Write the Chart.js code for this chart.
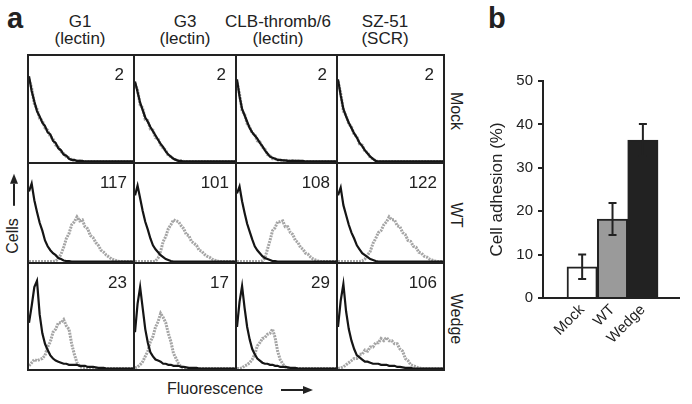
<!DOCTYPE html>
<html>
<head>
<meta charset="utf-8">
<script src="https://cdn.jsdelivr.net/npm/chart.js@4.4.0/dist/chart.umd.min.js"></script>
<style>
  body { margin: 0; background: #fff; }
  #fig { position: relative; width: 692px; height: 404px; overflow: hidden; background: #fff;
         font-family: 'Liberation Sans', Arial, sans-serif; color: #222; }
  .txt { position: absolute; white-space: nowrap; }
  .cell { position: absolute; box-sizing: border-box; border-left: 2px solid #222; border-top: 2px solid #222; }
  .cell canvas { position: absolute; left: 0; top: 0; }
  .count { position: absolute; font-size: 17px; line-height: 17px; }
  .head { position: absolute; width: 130px; text-align: center; font-size: 17px; line-height: 17px; top: 12.5px; }
  .rot { position: absolute; white-space: nowrap; font-size: 16px; line-height: 16px; }
  .arrow { display: inline-flex; align-items: center; vertical-align: middle; }
  .shaft { width: 22px; height: 1.5px; background: #222; }
  .tip { width: 0; height: 0; border-top: 4px solid transparent; border-bottom: 4px solid transparent; border-left: 10px solid #222; }
  .letter { position: absolute; font-size: 29px; line-height: 29px; font-weight: bold; top: 3.5px; }
</style>
</head>
<body>
<div id="fig">
  <div class="letter" style="left:7px">a</div>
  <div class="letter" style="left:488px">b</div>
  <div class="rot" style="left:13px; top:214px; transform: translate(-50%,-50%) rotate(-90deg);">Cells<span style="display:inline-block;width:12px"></span><span class="arrow"><span class="shaft"></span><span class="tip"></span></span></div>
  <div class="txt" style="left:167px; top:381px; font-size:16px; line-height:16px;">Fluorescence<span style="display:inline-block;width:18px"></span><span class="arrow"><span class="shaft"></span><span class="tip"></span></span></div>
  <canvas id="barChart" width="209" height="308" style="position:absolute; left:483px; top:60px;"></canvas>
</div>
<script>
// panel a: flow cytometry histograms (values in % of cell height, 40 bins)
const columnNames = [['G1', '(lectin)'], ['G3', '(lectin)'], ['CLB-thromb/6', '(lectin)'], ['SZ-51', '(SCR)']];
const rowNames = ['Mock', 'WT', 'Wedge'];
const cellCounts = [[2, 2, 2, 2], [117, 101, 108, 122], [23, 17, 29, 106]];

const mockBlack = [
  [81,67,57,48,43,37,34,28,26,20, 18,13,11,7,6,3,2,2,1,1, 1,.5,.5,.5,.5,.5,.5,.5,.5,.5, .5,.5,.5,.5,.5,.5,.5,.5,.5,.5],
  [76,66,56,49,42,38,33,29,25,21, 17,14,10,7,5,3,2,1,1,.5, .5,.5,.5,.5,.5,.5,.5,.5,.5,.5, .5,.5,.5,.5,.5,.5,.5,.5,.5,.5],
  [78,62,50,44,38,32,28,25,22,18, 15,11,8,5,4,3,2,2,1.5,1.5, 1,1,1,1,1,1,1,.5,.5,.5, .5,.5,.5,.5,.5,.5,.5,.5,.5,.5],
  [78,63,50,43,37,32,27,23,18,15, 11,8,5,3,1,.5,.5,.5,.5,.5, .5,.5,.5,.5,.5,.5,.5,.5,.5,.5, .5,.5,.5,.5,.5,.5,.5,.5,.5,.5]
];
const mockGray = [
  [78,70,55,50,41,39,32,30,24,22, 16,14,10,8,5,4,2,1,1,1, .5,.5,.5,.5,.5,.5,.5,.5,.5,.5, .5,.5,.5,.5,.5,.5,.5,.5,.5,.5],
  [74,68,54,51,40,39,31,30,23,22, 16,13,11,6,5,3,2,1,1,.5, .5,.5,.5,.5,.5,.5,.5,.5,.5,.5, .5,.5,.5,.5,.5,.5,.5,.5,.5,.5],
  [75,64,48,45,36,33,27,26,20,19, 14,12,7,6,3,3,2,2,1,2, 1,1,1.5,1,1,.5,.5,.5,.5,.5, .5,.5,.5,.5,.5,.5,.5,.5,.5,.5],
  [76,65,48,44,36,33,26,24,17,16, 10,9,4,3,1,.5,.5,.5,.5,.5, .5,.5,.5,.5,.5,.5,.5,.5,.5,.5, .5,.5,.5,.5,.5,.5,.5,.5,.5,.5]
];
const wtBlack = [
  [72,80,63,51,40,32,22,16,12,9, 7,4,3,1.5,1,1,.5,.5,.5,.5, .5,.5,.5,.5,.5,.5,.5,.5,.5,.5, .5,.5,.5,.5,.5,.5,.5,.5,.5,.5],
  [68,78,65,52,41,33,24,17,13,10, 7,5,3,2,1,.5,.5,.5,.5,.5, .5,.5,.5,.5,.5,.5,.5,.5,.5,.5, .5,.5,.5,.5,.5,.5,.5,.5,.5,.5],
  [70,77,62,50,39,31,23,16,12,9, 6,4,3,2,1,1,.5,.5,.5,.5, .5,.5,.5,.5,.5,.5,.5,.5,.5,.5, .5,.5,.5,.5,.5,.5,.5,.5,.5,.5],
  [68,76,58,48,38,30,24,17,13,9, 7,5,3,2,1,.5,.5,.5,.5,.5, .5,.5,.5,.5,.5,.5,.5,.5,.5,.5, .5,.5,.5,.5,.5,.5,.5,.5,.5,.5]
];
const wtGray = [
  [.5,.5,.5,.5,.5,.5,.5,.5,.5,.5, 1,3,8,15,24,29,38,41,46,42, 43,36,34,27,25,20,17,12,10,7, 5,3,2,1,.5,.5,.5,.5,.5,.5],
  [.5,.5,.5,.5,.5,.5,.5,.5,1,4, 11,21,26,34,38,43,42,41,37,34, 28,27,21,19,17,12,11,8,6,5, 3,2,1,.5,.5,.5,.5,.5,.5,.5],
  [.5,.5,.5,.5,.5,.5,.5,.5,.5,.5, 1,4,13,22,32,35,41,41,42,36, 36,30,28,22,20,15,13,9,8,5, 3,2,1,.5,.5,.5,.5,.5,.5,.5],
  [.5,.5,.5,.5,.5,.5,.5,.5,.5,1, 3,7,11,19,24,30,32,38,41,46, 43,43,37,36,30,28,22,21,16,15, 10,9,6,5,3,2,1,.5,.5,.5]
];
const wedgeBlack = [
  [44,60,78,84,52,34,24,18,13,10, 8,7,6,5,5,4,4,4,4,3, 3,3,2,2,2,1.5,1,1,1,.5, .5,.5,.5,.5,.5,.5,.5,.5,.5,.5],
  [35,62,78,58,38,25,16,12,9,8, 7,5,5,4,4,3,3,3,2,2, 1.5,1,1,1,1,.5,.5,.5,.5,.5, .5,.5,.5,.5,.5,.5,.5,.5,.5,.5],
  [40,64,79,58,40,28,19,14,10,8, 6,5,5,4,4,3,3,2,2,2, 1.5,1,1,1,.5,.5,.5,.5,.5,.5, .5,.5,.5,.5,.5,.5,.5,.5,.5,.5],
  [40,65,81,55,38,27,19,13,11,9, 7,7,6,5,5,5,4,4,4,3, 3,3,2,2,1.5,1,1,1,.5,.5, .5,.5,.5,.5,.5,.5,.5,.5,.5,.5]
];
const wedgeGray = [
  [3,6,9,8,9,10,13,21,26,35, 38,44,44,47,41,38,24,14,6,3, 1,1,.5,.5,.5,.5,.5,.5,.5,.5, .5,.5,.5,.5,.5,.5,.5,.5,.5,.5],
  [1,2,4,7,12,17,26,31,40,45, 53,49,44,34,26,15,10,5,2,1, .5,.5,.5,.5,.5,.5,.5,.5,.5,.5, .5,.5,.5,.5,.5,.5,.5,.5,.5,.5],
  [.5,.5,1,3,4,6,9,14,22,25, 29,30,33,34,38,30,17,9,5,2, 1,.5,.5,.5,.5,.5,.5,.5,.5,.5, .5,.5,.5,.5,.5,.5,.5,.5,.5,.5],
  [.5,1,2,4,6,8,10,10,14,14, 18,17,21,21,25,25,29,27,30,27, 27,24,24,19,17,10,8,4,3,2, 1,.5,.5,.5,.5,.5,.5,.5,.5,.5]
];

// panel b: cell adhesion
const barLabels = ['Mock', 'WT', 'Wedge'];
const adhesion = [7.2, 18.2, 36.4];
const adhesionErr = [2.8, 3.7, 3.7];
const barColors = ['#ffffff', '#9a9a9a', '#222222'];

Chart.defaults.font.family = "'Liberation Sans', Arial, sans-serif";
Chart.defaults.color = '#222';
Chart.defaults.animation = false;

const fig = document.getElementById('fig');
const colEdges = [27, 133, 235, 336, 443];
const rowEdges = [54, 162, 262, 369];
const headX = [80, 185, 278, 385];
const bins = mockBlack[0].map((v, i) => i);
const rowData = [[mockBlack, mockGray], [wtBlack, wtGray], [wedgeBlack, wedgeGray]];

columnNames.forEach((name, c) => {
  const h = document.createElement('div');
  h.className = 'head';
  h.style.left = (headX[c] - 65) + 'px';
  h.innerHTML = name[0] + '<br>' + name[1];
  fig.appendChild(h);
});

rowNames.forEach((name, r) => {
  const d = document.createElement('div');
  d.className = 'rot';
  d.textContent = name;
  d.style.left = '456px';
  d.style.top = ((rowEdges[r] + rowEdges[r + 1]) / 2 + 3) + 'px';
  d.style.transform = 'translate(-50%,-50%) rotate(90deg)';
  fig.appendChild(d);
});

for (let r = 0; r < 3; r++) {
  for (let c = 0; c < 4; c++) {
    const w = colEdges[c + 1] - colEdges[c];
    const h = rowEdges[r + 1] - rowEdges[r];
    const cell = document.createElement('div');
    cell.className = 'cell';
    cell.style.left = colEdges[c] + 'px';
    cell.style.top = rowEdges[r] + 'px';
    cell.style.width = w + 'px';
    cell.style.height = h + 'px';
    const cv = document.createElement('canvas');
    cv.width = w - 2;
    cv.height = h - 2;
    cell.appendChild(cv);
    fig.appendChild(cell);

    new Chart(cv, {
      type: 'line',
      data: {
        labels: bins,
        datasets: [
          { data: rowData[r][0][c], borderColor: '#151515', borderWidth: 2.2, pointRadius: 0, tension: 0 },
          { data: rowData[r][1][c], borderColor: 'rgba(105,105,105,0.6)', borderWidth: 3, borderDash: [2, 1], pointRadius: 0, tension: 0 }
        ]
      },
      options: {
        responsive: false,
        events: [],
        layout: { padding: 0 },
        plugins: { legend: { display: false }, tooltip: { enabled: false } },
        scales: {
          x: { display: false },
          y: { display: false, min: 0, max: 100 }
        }
      }
    });

    const n = document.createElement('div');
    n.className = 'count';
    n.textContent = cellCounts[r][c];
    n.style.right = (692 - colEdges[c + 1] + (r === 0 ? 9 : 6)) + 'px';
    n.style.top = (rowEdges[r] + 11.5) + 'px';
    fig.appendChild(n);
  }
}

// outer right and bottom frame
const rightLine = document.createElement('div');
rightLine.style.cssText = 'position:absolute;left:443px;top:54px;width:2px;height:317px;background:#222;';
fig.appendChild(rightLine);
const bottomLine = document.createElement('div');
bottomLine.style.cssText = 'position:absolute;left:27px;top:369px;width:418px;height:2px;background:#222;';
fig.appendChild(bottomLine);

// error bars drawn through the chart scales
const errorBars = {
  id: 'errorBars',
  afterDatasetsDraw(chart) {
    const { ctx, scales: { x, y } } = chart;
    ctx.save();
    ctx.strokeStyle = '#222';
    ctx.lineWidth = 2;
    adhesion.forEach((v, i) => {
      const px = x.getPixelForValue(i + 1);
      const top = y.getPixelForValue(v + adhesionErr[i]);
      const bot = y.getPixelForValue(v - adhesionErr[i]);
      ctx.beginPath();
      ctx.moveTo(px, top); ctx.lineTo(px, bot);
      ctx.moveTo(px - 4, top); ctx.lineTo(px + 4, top);
      ctx.moveTo(px - 4, bot); ctx.lineTo(px + 4, bot);
      ctx.stroke();
    });
    ctx.restore();
  }
};

new Chart(document.getElementById('barChart'), {
  type: 'bar',
  data: {
    datasets: [{
      data: adhesion.map((v, i) => ({ x: i + 1, y: v })),
      backgroundColor: barColors,
      borderColor: '#222',
      borderWidth: 2,
      categoryPercentage: 1,
      barPercentage: 1
    }]
  },
  options: {
    responsive: false,
    events: [],
    layout: { padding: { top: 21, right: 13, left: 0, bottom: 0 } },
    plugins: { legend: { display: false }, tooltip: { enabled: false } },
    scales: {
      x: {
        type: 'linear',
        min: -0.29,
        max: 4.19,
        offset: false,
        grid: { display: false, drawTicks: false },
        border: { display: true, color: '#222', width: 2 },
        ticks: {
          stepSize: 1,
          includeBounds: false,
          autoSkip: false,
          minRotation: 45,
          maxRotation: 45,
          padding: 3,
          font: { size: 15 },
          callback: (v) => barLabels[v - 1] || ''
        },
        afterFit: (s) => { s.height = 70; }
      },
      y: {
        min: 0,
        max: 50,
        grid: { drawOnChartArea: false, drawTicks: true, tickLength: 5, color: '#222', lineWidth: 2 },
        border: { display: true, color: '#222', width: 2 },
        ticks: { stepSize: 10, padding: 5, font: { size: 15 } },
        title: { display: true, text: 'Cell adhesion (%)', font: { size: 17 }, padding: { top: 4, bottom: 4 } },
        afterFit: (s) => { s.width = 60; }
      }
    }
  },
  plugins: [errorBars]
});
</script>
</body>
</html>
